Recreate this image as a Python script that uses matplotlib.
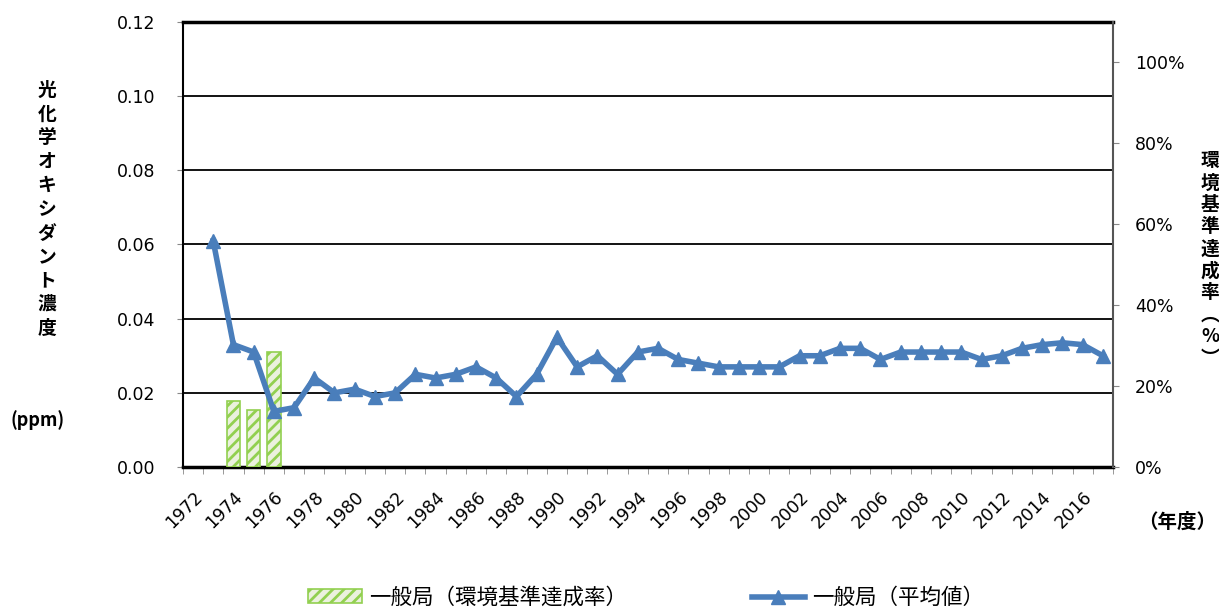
import matplotlib
matplotlib.use("Agg")
import matplotlib.pyplot as plt
import numpy as np

plt.rcParams['font.family'] = ['Noto Sans CJK JP', 'DejaVu Sans']
plt.rcParams['hatch.linewidth'] = 2.0

# 年度と平均値 (ppm)
years = list(range(1973, 2018))
mean_ppm = [0.061, 0.033, 0.031, 0.015, 0.016, 0.024, 0.020, 0.021, 0.019, 0.020,
            0.025, 0.024, 0.025, 0.027, 0.024, 0.019, 0.025, 0.035, 0.027, 0.030,
            0.025, 0.031, 0.032, 0.029, 0.028, 0.027, 0.027, 0.027, 0.027, 0.030,
            0.030, 0.032, 0.032, 0.029, 0.031, 0.031, 0.031, 0.031, 0.029, 0.030,
            0.032, 0.033, 0.0335, 0.033, 0.030]

# 環境基準達成率 (%)
bar_years = [1974, 1975, 1976]
attain_pct = [16.3, 14.1, 28.4]

label_years = list(range(1972, 2017, 2))

fig = plt.figure(figsize=(12.19, 6.10), dpi=100)
ax = fig.add_axes([0.150, 0.2344, 0.763, 0.7296])
ax2 = ax.twinx()
ax3 = ax.twinx()

# grid + left axis
ax.set_xlim(1971.5, 2017.5)
ax.set_ylim(0, 0.12)
ax.set_yticks(np.arange(0, 0.121, 0.02))
ax.set_yticklabels([f"{v:.2f}" for v in np.arange(0, 0.121, 0.02)])
ax.grid(axis='y', color='black', linewidth=1.3)
ax.set_axisbelow(True)
ax.tick_params(axis='y', length=4, color='#888888', labelsize=12.5, pad=16,
               labelfontfamily='DejaVu Sans')
ax.set_xticks(label_years)
ax.set_xticklabels([str(y) for y in label_years], rotation=45, ha='right',
                   rotation_mode='anchor')
ax.tick_params(axis='x', length=0, pad=15, labelsize=12.5, labelfontfamily='DejaVu Sans')
ax.set_xticks(np.arange(1971.5, 2018, 1), minor=True)
ax.tick_params(axis='x', which='minor', length=5, color='#888888')
ax.spines['left'].set_color('black')
ax.spines['left'].set_linewidth(1.5)
ax.spines['bottom'].set_linewidth(2.5)
ax.spines['top'].set_linewidth(2.5)
ax.spines['right'].set_visible(False)

# bars on right axis
ax2.bar(bar_years, attain_pct, width=0.68, facecolor='#ebf1de', edgecolor='#92d050',
        hatch='///', linewidth=1.2, label='一般局（環境基準達成率）')
ax2.set_ylim(0, 110)
ax2.set_yticks([0, 20, 40, 60, 80, 100])
ax2.set_yticklabels([f"{v}%" for v in [0, 20, 40, 60, 80, 100]])
ax2.tick_params(axis='y', length=4, color='#888888', labelsize=12.5, pad=12,
                labelfontfamily='DejaVu Sans')
ax2.spines['right'].set_color('#555555')
ax2.spines['right'].set_linewidth(1.5)
for s in ['left', 'top', 'bottom']:
    ax2.spines[s].set_visible(False)

# line on top
ax3.plot(years, mean_ppm, color='#4a7ebb', linewidth=4, marker='^', markersize=10,
         label='一般局（平均値）')
ax3.set_ylim(0, 0.12)
ax3.axis('off')

# axis titles
fig.text(47 / 1219, 0.657, "\n".join("光化学オキシダント濃度"), ha='center', va='center',
         fontsize=13.5, fontweight='bold', linespacing=1.32)
fig.text(38 / 1219, 0.311, "(ppm)", ha='center', va='center', fontsize=13,
         fontweight='bold')
fig.text(1210 / 1219, 0.574, "\n".join("環境基準達成率︵%︶"), ha='center', va='center',
         fontsize=13.5, fontweight='bold', linespacing=1.2)
fig.text(1177 / 1219, 0.144, "（年度）", ha='center', va='center', fontsize=14,
         fontweight='bold')

h2, l2 = ax2.get_legend_handles_labels()
h3, l3 = ax3.get_legend_handles_labels()
fig.legend(h2 + h3, l2 + l3, loc='center', bbox_to_anchor=(0.53, 0.02), ncol=2,
           frameon=False, fontsize=15.5, handlelength=2.5, handleheight=0.6,
           columnspacing=5.8, handletextpad=0.3)

fig.savefig("out.png", dpi=100)
